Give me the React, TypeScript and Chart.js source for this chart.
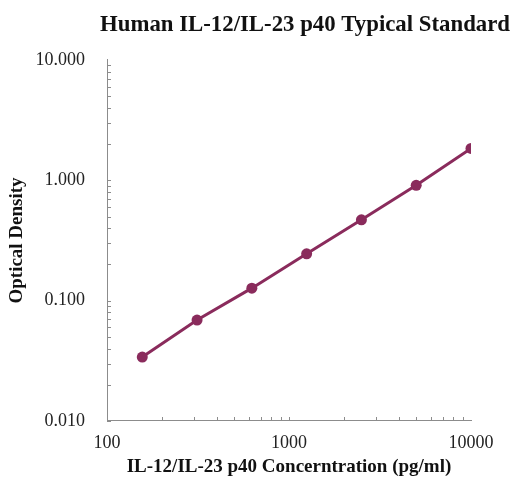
import React, { useEffect, useRef } from "react";
import { Chart, registerables } from "chart.js";

Chart.register(...registerables);

const concentrations = [156.25, 312.5, 625, 1250, 2500, 5000, 10000];
const odValues = [0.034, 0.069, 0.127, 0.245, 0.47, 0.909, 1.84];
const xTickValues = [100, 1000, 10000];
const yTickValues = [0.01, 0.1, 1, 10];

const titleText = "Human IL-12/IL-23 p40 Typical Standard";
const xTitle = "IL-12/IL-23 p40 Concerntration (pg/ml)";
const yTitle = "Optical Density";

const SERIF = "'Liberation Serif', 'Times New Roman', serif";
const LINE_COLOR = "#8a2b5c";
const AXIS_COLOR = "#8c8c8c";

const minorTicksPlugin = {
  id: "minorTicks",
  afterDraw(chart: any) {
    const ctx = chart.ctx;
    const xs = chart.scales.x;
    const ys = chart.scales.y;
    ctx.save();
    ctx.strokeStyle = AXIS_COLOR;
    ctx.lineWidth = 1;
    const len = 4;
    for (let p = Math.floor(Math.log10(xs.min) + 1e-9); p < Math.log10(xs.max) - 1e-9; p++) {
      for (let m = 1; m <= 9; m++) {
        const v = m * Math.pow(10, p);
        const px = Math.round(xs.getPixelForValue(v)) + 0.5;
        ctx.beginPath();
        ctx.moveTo(px, ys.bottom);
        ctx.lineTo(px, ys.bottom - len);
        ctx.stroke();
      }
    }
    for (let p = Math.floor(Math.log10(ys.min) + 1e-9); p < Math.log10(ys.max) - 1e-9; p++) {
      for (let m = 1; m <= 9; m++) {
        const v = m * Math.pow(10, p);
        const py = Math.round(ys.getPixelForValue(v)) + 0.5;
        ctx.beginPath();
        ctx.moveTo(xs.left, py);
        ctx.lineTo(xs.left + len, py);
        ctx.stroke();
      }
    }
    ctx.restore();
  },
};

export default function App() {
  const ref = useRef<HTMLCanvasElement | null>(null);
  useEffect(() => {
    if (!ref.current) return;
    const chart = new Chart(ref.current, {
      type: "scatter",
      data: {
        datasets: [
          {
            data: concentrations.map((c, i) => ({ x: c, y: odValues[i] })),
            showLine: true,
            borderColor: LINE_COLOR,
            backgroundColor: LINE_COLOR,
            borderWidth: 3,
            pointRadius: 5.5,
            pointBorderWidth: 0,
          },
        ],
      },
      options: {
        animation: false,
        responsive: false,
        layout: { padding: { left: 0, right: 3, top: 0, bottom: 0 } },
        plugins: {
          legend: { display: false },
          tooltip: { enabled: false },
          title: {
            display: true,
            text: titleText,
            align: "end",
            color: "#111",
            font: { family: SERIF, size: 22.8, weight: "bold" },
            padding: { top: 11, bottom: 21.6 },
          },
        },
        scales: {
          x: {
            type: "logarithmic",
            min: 100,
            max: 10000,
            afterBuildTicks: (scale: any) => {
              scale.ticks = xTickValues.map((v) => ({ value: v }));
            },
            afterFit: (scale: any) => {
              scale.height = 66;
              scale.paddingRight = 42;
            },
            grid: { display: false, drawTicks: false },
            border: { display: true, color: AXIS_COLOR, width: 1 },
            ticks: {
              autoSkip: false,
              maxRotation: 0,
              padding: 11,
              color: "#222",
              font: { family: SERIF, size: 18 },
              callback: (v: any) => String(v),
            },
            title: {
              display: true,
              text: xTitle,
              color: "#111",
              font: { family: SERIF, size: 19, weight: "bold" },
              padding: { top: 2, bottom: 8.6 },
            },
          },
          y: {
            type: "logarithmic",
            min: 0.01,
            max: 10,
            afterBuildTicks: (scale: any) => {
              scale.ticks = yTickValues.map((v) => ({ value: v }));
            },
            afterFit: (scale: any) => {
              scale.width = 107;
            },
            grid: { display: false, drawTicks: false },
            border: { display: true, color: AXIS_COLOR, width: 1 },
            ticks: {
              autoSkip: false,
              padding: 22,
              color: "#222",
              font: { family: SERIF, size: 18 },
              callback: (v: any) => Number(v).toFixed(3),
            },
            title: {
              display: true,
              text: yTitle,
              color: "#111",
              font: { family: SERIF, size: 19, weight: "bold" },
              padding: { top: 6, bottom: 6 },
            },
          },
        },
      },
      plugins: [minorTicksPlugin],
    } as any);
    return () => chart.destroy();
  }, []);
  return (
    <div style={{ position: "fixed", left: 0, top: 0, width: 513, height: 487, background: "#fff" }}>
      <canvas ref={ref} width={513} height={487} style={{ width: 513, height: 487 }} />
    </div>
  );
}
